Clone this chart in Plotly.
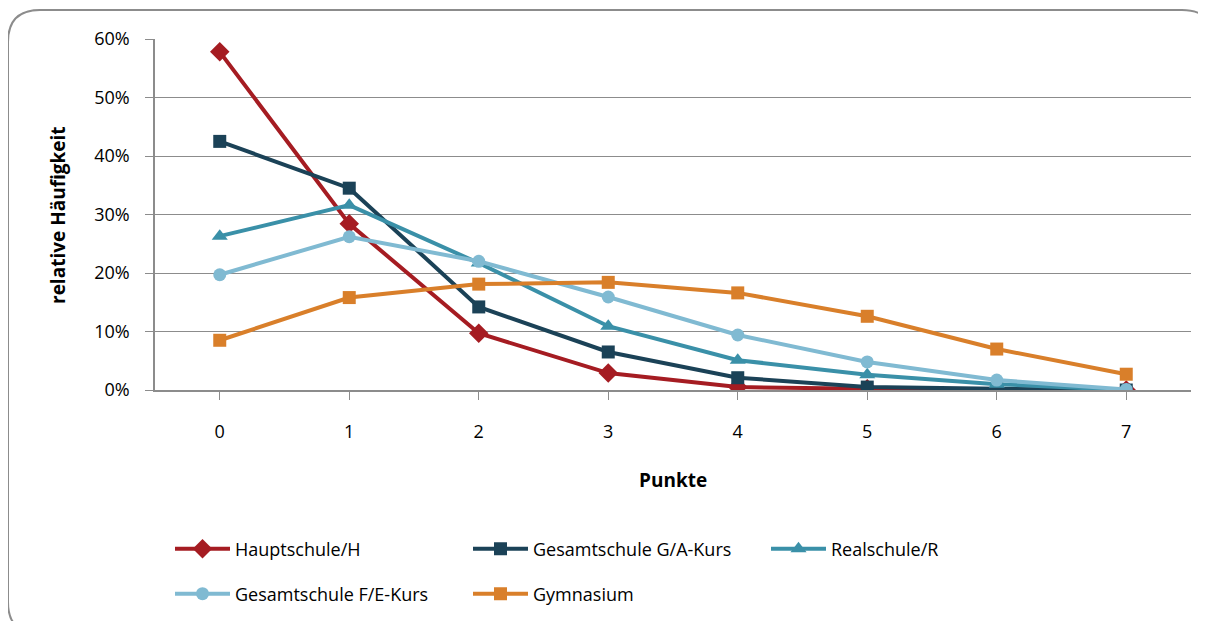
import plotly.graph_objects as go

punkte = [0, 1, 2, 3, 4, 5, 6, 7]
hauptschule = [0.578, 0.284, 0.097, 0.029, 0.005, 0.002, 0.001, 0.0]
gesamt_ga = [0.425, 0.345, 0.142, 0.065, 0.021, 0.005, 0.002, 0.0]
realschule = [0.263, 0.316, 0.217, 0.109, 0.051, 0.026, 0.010, 0.0]
gesamt_fe = [0.197, 0.262, 0.220, 0.159, 0.094, 0.048, 0.017, 0.001]
gymnasium = [0.085, 0.158, 0.181, 0.184, 0.166, 0.126, 0.070, 0.027]

series = [
    ("Hauptschule/H", hauptschule, "#A51C22", "diamond", 15, "legend"),
    ("Gesamtschule G/A-Kurs", gesamt_ga, "#1B4257", "square", 13, "legend"),
    ("Realschule/R", realschule, "#3A90A8", "triangle-up", 14, "legend"),
    ("Gesamtschule F/E-Kurs", gesamt_fe, "#80BAD2", "circle", 13, "legend2"),
    ("Gymnasium", gymnasium, "#D97F2A", "square", 13, "legend2"),
]

FONT = "Open Sans, Calibri, sans-serif"
OFF = 8  # page body margin
W, H = 1206, 621
L, R, T, B = 155 - OFF, 1191 - OFF, 39 - OFF, 390 - OFF

fig = go.Figure()
for name, vals, col, sym, sz, lg in series:
    fig.add_trace(go.Scatter(
        x=punkte, y=vals, name=name, mode="lines+markers",
        line=dict(color=col, width=4),
        marker=dict(symbol=sym, size=sz, color=col),
        legend=lg,
    ))

def P(sx, sy):
    px, py = sx - OFF, sy - OFF
    return f"{(px - L) / (R - L):.5f},{(B - py) / (B - T):.5f}"

x0, y0, x1, y1, r = 8, 10, 1214, 634, 32
path = (f"M {P(x0 + r, y0)} L {P(x1 - r, y0)} Q {P(x1, y0)} {P(x1, y0 + r)} "
        f"L {P(x1, y1 - r)} Q {P(x1, y1)} {P(x1 - r, y1)} "
        f"L {P(x0 + r, y1)} Q {P(x0, y1)} {P(x0, y1 - r)} "
        f"L {P(x0, y0 + r)} Q {P(x0, y0)} {P(x0 + r, y0)} Z")

def py2paper(sy):
    return (B - (sy - OFF)) / (B - T)

def px2paper(sx):
    return ((sx - OFF) - L) / (R - L)

leg_common = dict(orientation="h", xanchor="left", yanchor="middle",
                  entrywidth=228, entrywidthmode="pixels", itemwidth=55,
                  font=dict(family=FONT, size=18), bgcolor="rgba(0,0,0,0)",
                  traceorder="normal")

fig.update_layout(
    width=W, height=H,
    margin=dict(l=L, r=W - R, t=T, b=H - B),
    paper_bgcolor="white", plot_bgcolor="white",
    font=dict(family=FONT, size=18, color="#000000"),
    shapes=[dict(type="path", path=path, xref="paper", yref="paper",
                 line=dict(color="#8C8C8C", width=2), layer="below")],
    showlegend=True,
    legend=dict(x=px2paper(170), y=py2paper(549), **leg_common),
    legend2=dict(x=px2paper(170), y=py2paper(594), **leg_common),
    annotations=[
        dict(text="<b>relative Häufigkeit</b>", x=px2paper(58), y=py2paper(215),
             xref="paper", yref="paper", showarrow=False, textangle=-90,
             xanchor="center", yanchor="middle",
             font=dict(family=FONT, size=19)),
        dict(text="<b>Punkte</b>", x=px2paper(673), y=py2paper(480),
             xref="paper", yref="paper", showarrow=False,
             xanchor="center", yanchor="middle",
             font=dict(family=FONT, size=19)),
    ],
)

fig.update_xaxes(
    range=[-0.5, 7.5], tickvals=punkte, ticktext=[str(p) for p in punkte],
    showgrid=False, showline=True, linecolor="#8C8C8C", linewidth=1.5,
    ticks="outside", ticklen=8, tickcolor="#8C8C8C", tickwidth=1,
    ticklabelstandoff=17, zeroline=False,
    tickfont=dict(family=FONT, size=18),
)
fig.update_yaxes(
    range=[0, 0.6], tickvals=[0, 0.1, 0.2, 0.3, 0.4, 0.5, 0.6],
    tickformat=".0%", showgrid=True, gridcolor="#8C8C8C", gridwidth=1,
    showline=True, linecolor="#8C8C8C", linewidth=1.5,
    ticks="outside", ticklen=8, tickcolor="#8C8C8C", tickwidth=1,
    ticklabelstandoff=12, zeroline=False,
    tickfont=dict(family=FONT, size=18),
)

fig.write_html("out.html")
